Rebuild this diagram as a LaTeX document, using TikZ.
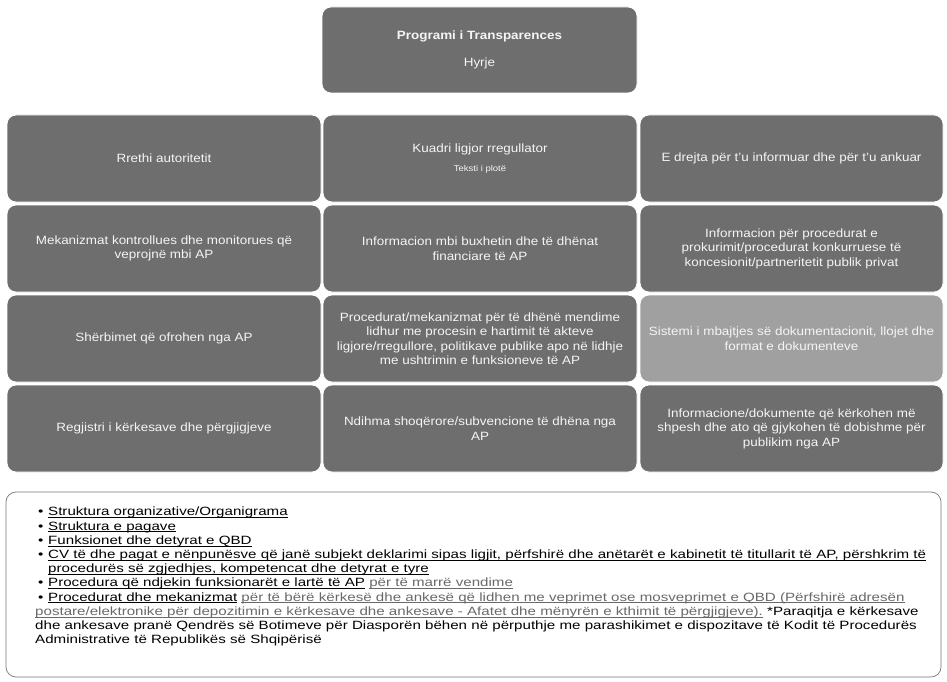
\documentclass[tikz,border=0pt]{standalone}
\usepackage{fontspec}
\setmainfont{Liberation Sans}[FakeStretch=1.12]
\newfontfamily\infofont{Liberation Sans}[FakeStretch=1.26]
\newcommand\myul[1]{\setbox0\hbox{#1}\rlap{\rule[-1.8pt]{\wd0}{0.6pt}}\box0\relax}
\definecolor{boxdark}{RGB}{110,110,110}
\definecolor{boxlight}{RGB}{160,160,160}
\definecolor{boxtext}{RGB}{245,245,245}
\definecolor{linkgray}{RGB}{105,105,105}
\definecolor{frame}{RGB}{120,120,120}
\begin{document}
\begin{tikzpicture}[x=1pt,y=-1pt,
  tile/.style={fill=boxdark, draw=white, line width=0.8pt, rounded corners=9pt, text=boxtext,
    align=center, inner sep=0pt, font=\fontsize{12}{14.5}\selectfont},
  lighttile/.style={tile, fill=boxlight},
  infoframe/.style={draw=frame, line width=0.7pt, rounded corners=10pt, inner sep=0pt},
  infotext/.style={align=left, inner sep=0pt, anchor=north west, text=black,
    font=\infofont\fontsize{12}{14.2}\selectfont}]
\useasboundingbox (0,0) rectangle (947,682);
\fill[white] (0,0) rectangle (947,682);

% top box
\node[tile, minimum width=315pt, minimum height=86pt] (top) at (479.5,50)
  {{\bfseries Programi i Transparences}\\[13pt]Hyrje};

% row 1
\node[tile, minimum width=314pt, minimum height=87pt] (r1a) at (164,158.5) {Rrethi autoritetit};
\node[tile, minimum width=314pt, minimum height=87pt] (r1b) at (480,158.5)
  {Kuadri ligjor rregullator\\[4pt]{\fontsize{8.5}{10}\selectfont Teksti i plotë}};
\node[tile, minimum width=303pt, minimum height=87pt] (r1c) at (791.5,158.5)
  {E drejta për t'u informuar dhe për t'u ankuar};

% row 2
\node[tile, minimum width=314pt, minimum height=87pt] (r2a) at (164,248.5)
  {Mekanizmat kontrollues dhe monitorues që\\veprojnë mbi AP};
\node[tile, minimum width=314pt, minimum height=87pt] (r2b) at (480,248.5)
  {Informacion mbi buxhetin dhe të dhënat\\financiare të AP};
\node[tile, minimum width=303pt, minimum height=87pt] (r2c) at (791.5,248.5)
  {Informacion për procedurat e\\prokurimit/procedurat konkurruese të\\koncesionit/partneritetit publik privat};

% row 3
\node[tile, minimum width=314pt, minimum height=87pt] (r3a) at (164,338.5)
  {Shërbimet që ofrohen nga AP};
\node[tile, minimum width=314pt, minimum height=87pt] (r3b) at (480,338.5)
  {Procedurat/mekanizmat për të dhënë mendime\\lidhur me procesin e hartimit të akteve\\ligjore/rregullore, politikave publike apo në lidhje\\me ushtrimin e funksioneve të AP};
\node[lighttile, minimum width=303pt, minimum height=87pt] (r3c) at (791.5,338.5)
  {Sistemi i mbajtjes së dokumentacionit, llojet dhe\\format e dokumenteve};

% row 4
\node[tile, minimum width=314pt, minimum height=87pt] (r4a) at (164,428.5)
  {Regjistri i kërkesave dhe përgjigjeve};
\node[tile, minimum width=314pt, minimum height=87pt] (r4b) at (480,428.5)
  {Ndihma shoqërore/subvencione të dhëna nga\\AP};
\node[tile, minimum width=303pt, minimum height=87pt] (r4c) at (791.5,428.5)
  {Informacione/dokumente që kërkohen më\\shpesh dhe ato që gjykohen të dobishme për\\publikim nga AP};

% information box
\node[infoframe, minimum width=935pt, minimum height=185pt] (info) at (473.5,584.5) {};
\node[infotext] (infotxt) at (35,507)
  {\hspace*{3pt}\makebox[10pt][l]{•}\myul{Struktura organizative/Organigrama}\\
   \hspace*{3pt}\makebox[10pt][l]{•}\myul{Struktura e pagave}\\
   \hspace*{3pt}\makebox[10pt][l]{•}\myul{Funksionet dhe detyrat e QBD}\\
   \hspace*{3pt}\makebox[10pt][l]{•}\myul{CV të dhe pagat e nënpunësve që janë subjekt deklarimi sipas ligjit, përfshirë dhe anëtarët e kabinetit të titullarit të AP, përshkrim të}\\
   \hspace*{13pt}\myul{procedurës së zgjedhjes, kompetencat dhe detyrat e tyre}\\
   \hspace*{3pt}\makebox[10pt][l]{•}\myul{Procedura që ndjekin funksionarët e lartë të AP} \textcolor{linkgray}{\myul{për të marrë vendime}}\\
   \hspace*{3pt}\makebox[10pt][l]{•}\myul{Procedurat dhe mekanizmat} \textcolor{linkgray}{\myul{për të bërë kërkesë dhe ankesë që lidhen me veprimet ose mosveprimet e QBD (Përfshirë adresën}}\\
   \textcolor{linkgray}{\myul{postare/elektronike për depozitimin e kërkesave dhe ankesave - Afatet dhe mënyrën e kthimit të përgjigjeve).}} *Paraqitja e kërkesave\\
   dhe ankesave pranë Qendrës së Botimeve për Diasporën bëhen në përputhje me parashikimet e dispozitave të Kodit të Procedurës\\
   Administrative të Republikës së Shqipërisë};
\end{tikzpicture}
\end{document}
